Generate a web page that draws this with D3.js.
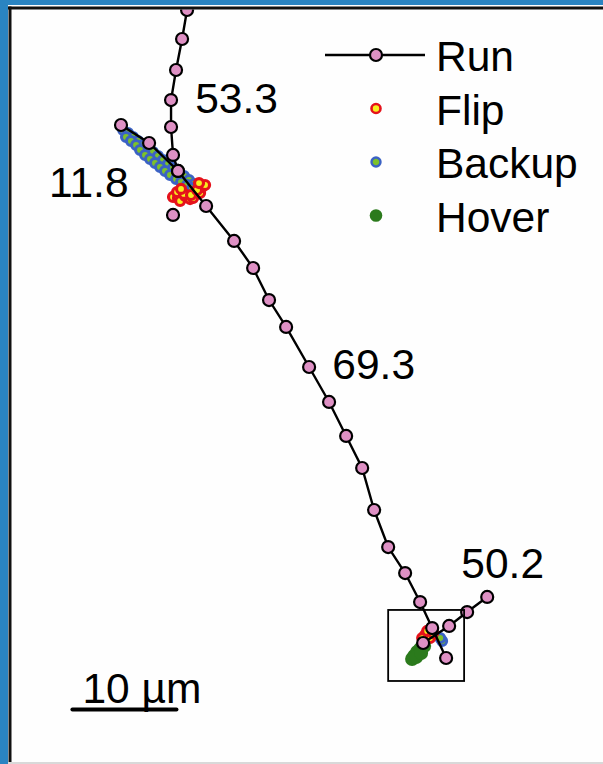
<!DOCTYPE html>
<html>
<head>
<meta charset="utf-8">
<script src="https://cdn.jsdelivr.net/npm/d3@7"></script>
<style>
  html, body { margin: 0; padding: 0; background: #2a84c2; }
  svg { display: block; }
  text { font-family: "Liberation Sans", Arial, sans-serif; fill: #000; }
</style>
</head>
<body>
<svg id="chart" width="603" height="764"></svg>
<script>
// Positions in micrometres, origin at the top-left of the panel.
// Run track segments (cell centroid every frame while running)
const runTop = [
  [17.02, 0.19], [16.54, 2.98], [15.96, 5.96], [15.48, 8.85],
  [15.48, 11.44], [15.67, 14.13], [16.15, 15.67]
];
const runMain = [
  [10.67, 11.25], [13.37, 12.98], [16.15, 15.67], [18.85, 19.04],
  [21.54, 22.40], [23.37, 25.00], [24.90, 28.08], [26.54, 30.67],
  [28.75, 34.52], [30.67, 37.88], [32.31, 41.15], [33.85, 44.23],
  [35.00, 48.27], [36.35, 51.83], [37.98, 54.33], [39.42, 57.12],
  [40.58, 59.62]
];
const runExit = [
  [39.71, 61.06], [42.21, 59.42], [43.94, 58.08], [45.87, 56.63]
];
const runSide = [
  [40.58, 59.62], [41.92, 62.50]
];
const runSingle = [
  [15.67, 19.90]
];

// Flip events
const flipPts = [
  [15.67, 18.17], [16.15, 18.27], [16.35, 18.56], [16.83, 18.08],
  [17.31, 18.37], [17.60, 18.27], [18.27, 17.79], [18.46, 17.21],
  [18.75, 17.02], [16.06, 17.69], [16.73, 17.88], [17.40, 17.98],
  [17.98, 17.50], [18.17, 16.83], [16.44, 17.40],
  [39.90, 60.29], [40.38, 60.58], [39.62, 60.58], [40.10, 59.90],
  [40.67, 60.10]
];

// Backup events
const backupPts = [
  [10.87, 11.73], [11.35, 12.02], [11.83, 12.40], [12.31, 12.79],
  [12.79, 13.17], [13.27, 13.46], [13.75, 13.85], [14.23, 14.23],
  [14.71, 14.62], [15.19, 15.00], [15.67, 15.38], [16.15, 15.77],
  [16.73, 16.15], [17.21, 16.54], [17.69, 16.92],
  [11.15, 12.40], [11.63, 12.79], [12.12, 13.17], [12.50, 13.65],
  [12.98, 14.13], [13.46, 14.52], [13.94, 14.90], [14.42, 15.29],
  [14.90, 15.67], [15.38, 16.06], [15.96, 16.44], [16.44, 16.73],
  [17.02, 17.02], [17.50, 17.31], [17.98, 17.40],
  [41.54, 60.87], [41.35, 60.58]
];

// Hover events
const hoverPts = [
  [38.85, 62.31], [39.13, 61.92], [39.42, 61.63], [39.81, 61.35],
  [38.65, 62.60], [39.04, 62.40], [39.52, 62.02]
];

// Mean speeds for each run segment
const speedLabels = [
  { text: "53.3", x: 17.80, y: 10.10 },
  { text: "11.8", x: 3.75, y: 18.17 },
  { text: "69.3", x: 30.98, y: 35.67 },
  { text: "50.2", x: 43.38, y: 54.81 }
];

// Region enlarged elsewhere
const zoomBox = { x0: 36.35, y0: 57.88, x1: 43.65, y1: 64.71 };

// Scale bar
const scaleBar = { x0: 6, x1: 16, y: 67.45, label: "10 \u00b5m" };

const legendItems = ["Run", "Flip", "Backup", "Hover"];

const W = 603, H = 764;
const FONT = 42.5;
const x = d3.scaleLinear().domain([0, 57]).range([10, 603]);
const y = d3.scaleLinear().domain([0, 72.5]).range([8, 762]);

const svg = d3.select("#chart");

// Blue frame and white panel
svg.append("rect").attr("width", W).attr("height", H).attr("fill", "#2a84c2");
svg.append("rect").attr("x", 8).attr("y", 5).attr("width", W - 8).attr("height", 757)
  .attr("fill", "#fefefe");
svg.append("rect").attr("x", 8).attr("y", 762).attr("width", W - 8).attr("height", 2)
  .attr("fill", "#d9d9d9");

svg.append("clipPath").attr("id", "panel")
  .append("rect").attr("x", 11).attr("y", 9.5).attr("width", W - 11).attr("height", 752);

const g = svg.append("g").attr("clip-path", "url(#panel)");

const COL = {
  run: "#de90c4",
  flipFill: "#f6ef1e", flipStroke: "#e5121b",
  backFill: "#7dc12a", backStroke: "#3b62c4",
  hover: "#2b7a1c"
};

// Backup, flip and hover markers sit beneath the track
g.append("g").selectAll("circle").data(backupPts).join("circle")
  .attr("cx", d => x(d[0])).attr("cy", d => y(d[1])).attr("r", 4.5)
  .attr("fill", COL.backFill).attr("stroke", COL.backStroke).attr("stroke-width", 3);

g.append("g").selectAll("circle").data(flipPts).join("circle")
  .attr("cx", d => x(d[0])).attr("cy", d => y(d[1])).attr("r", 4.5)
  .attr("fill", COL.flipFill).attr("stroke", COL.flipStroke).attr("stroke-width", 3.2);

g.append("g").selectAll("circle").data(hoverPts).join("circle")
  .attr("cx", d => x(d[0])).attr("cy", d => y(d[1])).attr("r", 7)
  .attr("fill", COL.hover);

// Run track
const line = d3.line().x(d => x(d[0])).y(d => y(d[1]));
const tracks = [runTop, runMain, runExit, runSide];
g.append("g").selectAll("path").data(tracks).join("path")
  .attr("d", line).attr("fill", "none").attr("stroke", "#000").attr("stroke-width", 2.4);

const runPts = [].concat(runTop, runMain, runExit, runSide.slice(1), runSingle);
g.append("g").selectAll("circle").data(runPts).join("circle")
  .attr("cx", d => x(d[0])).attr("cy", d => y(d[1])).attr("r", 6)
  .attr("fill", COL.run).attr("stroke", "#000").attr("stroke-width", 2.2);

// Inset box
g.append("rect")
  .attr("x", x(zoomBox.x0)).attr("y", y(zoomBox.y0))
  .attr("width", x(zoomBox.x1) - x(zoomBox.x0))
  .attr("height", y(zoomBox.y1) - y(zoomBox.y0))
  .attr("fill", "none").attr("stroke", "#000").attr("stroke-width", 1.8);

// Speed labels
g.append("g").selectAll("text").data(speedLabels).join("text")
  .attr("x", d => x(d.x)).attr("y", d => y(d.y))
  .attr("font-size", FONT).text(d => d.text);

// Scale bar
g.append("line")
  .attr("x1", x(scaleBar.x0)).attr("x2", x(scaleBar.x1))
  .attr("y1", y(scaleBar.y)).attr("y2", y(scaleBar.y))
  .attr("stroke", "#000").attr("stroke-width", 4).attr("stroke-linecap", "round");
g.append("text")
  .attr("x", x(scaleBar.x0) + 10).attr("y", y(scaleBar.y) - 6)
  .attr("font-size", FONT).text(scaleBar.label);

// Legend
const lg = svg.append("g").attr("transform", "translate(376,55)");
const rowH = 53.5;
const rows = lg.selectAll("g").data(legendItems).join("g")
  .attr("transform", (d, i) => `translate(0,${i * rowH})`);
rows.filter(d => d === "Run").append("line")
  .attr("x1", -51).attr("x2", 49).attr("stroke", "#000").attr("stroke-width", 2.4);
rows.each(function (d) {
  const r = d3.select(this);
  if (d === "Run") {
    r.append("circle").attr("r", 6).attr("fill", COL.run)
      .attr("stroke", "#000").attr("stroke-width", 2.2);
  } else if (d === "Flip") {
    r.append("circle").attr("r", 4.5).attr("fill", COL.flipFill)
      .attr("stroke", COL.flipStroke).attr("stroke-width", 2.6);
  } else if (d === "Backup") {
    r.append("circle").attr("r", 4.5).attr("fill", COL.backFill)
      .attr("stroke", COL.backStroke).attr("stroke-width", 2.4);
  } else {
    r.append("circle").attr("r", 6.3).attr("fill", COL.hover);
  }
});
rows.append("text").attr("x", 60).attr("y", 16)
  .attr("font-size", FONT).text(d => d);

// Panel edges
svg.append("line").attr("x1", 8).attr("x2", W).attr("y1", 8).attr("y2", 8)
  .attr("stroke", "#111").attr("stroke-width", 3);
svg.append("line").attr("x1", 10).attr("x2", 10).attr("y1", 6.5).attr("y2", 762)
  .attr("stroke", "#111").attr("stroke-width", 3);
</script>
</body>
</html>
